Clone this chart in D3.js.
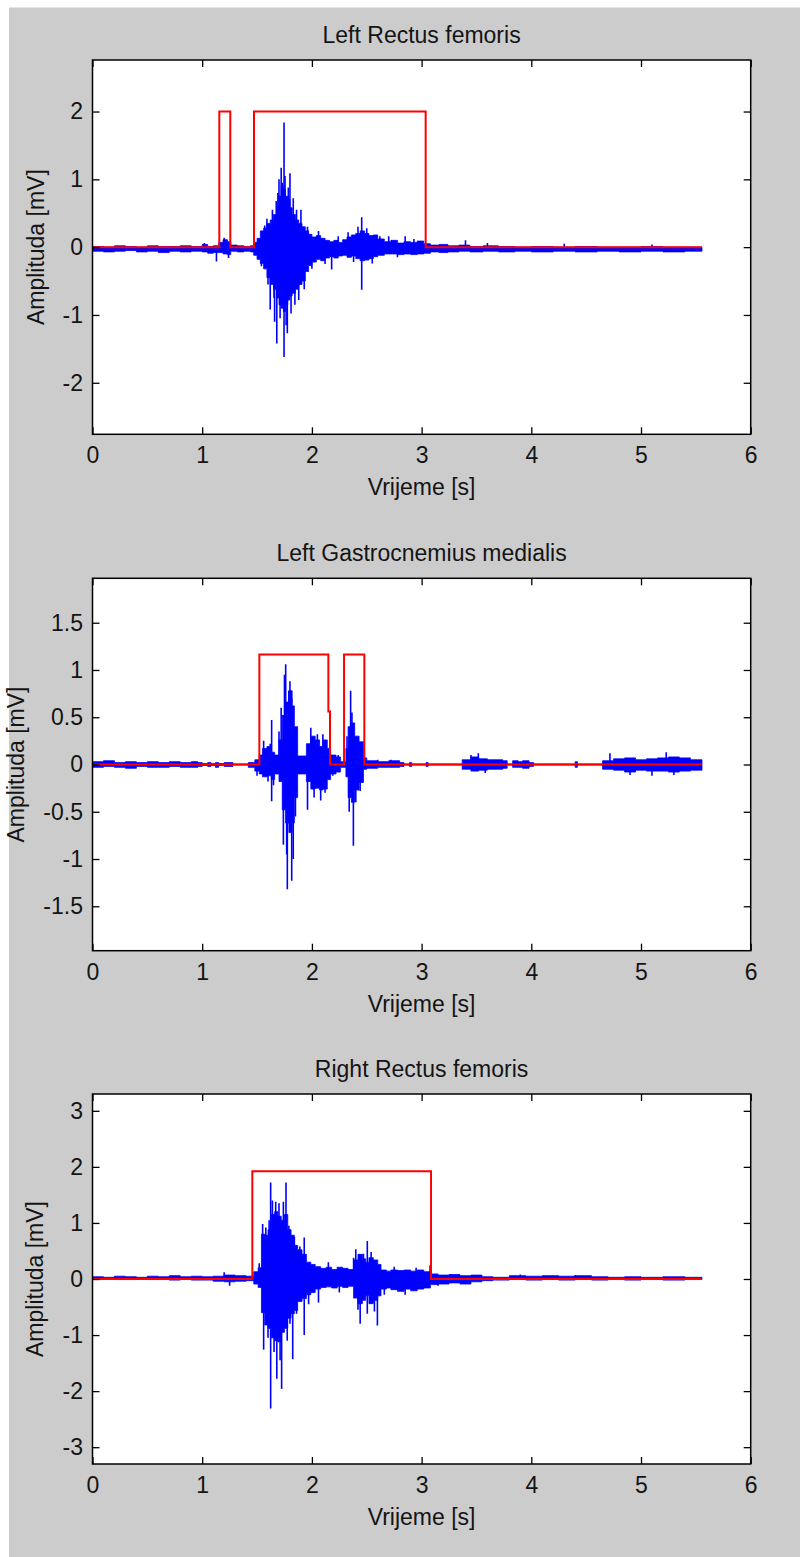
<!DOCTYPE html>
<html><head><meta charset="utf-8">
<script src="https://cdn.jsdelivr.net/npm/d3@7"></script>
<style>html,body{margin:0;padding:0;background:#fff;} svg{display:block}</style>
</head><body>
<svg id="chart" width="800" height="1557"></svg>
<script>
// ---------- data ----------
const titles = ["Left Rectus femoris", "Left Gastrocnemius medialis", "Right Rectus femoris"];
const xLabel = "Vrijeme [s]";
const yLabel = "Amplituda [mV]";
const xTicks = [0, 1, 2, 3, 4, 5, 6];
const yTicksLRF = [-2, -1, 0, 1, 2];
const yTicksLGM = [-1.5, -1, -0.5, 0, 0.5, 1, 1.5];
const yTicksRRF = [-3, -2, -1, 0, 1, 2, 3];

// Left Rectus femoris: EMG envelope (time, upper, lower), spikes, onset detection
const lrfTime  = [0,0.1,0.2,0.3,0.4,0.5,0.6,0.7,0.8,0.9,1.0,1.05,1.1,1.15,1.19,1.23,1.26,1.32,1.38,1.44,1.47,1.5,1.53,1.56,1.59,1.62,1.65,1.68,1.7,1.72,1.74,1.76,1.78,1.8,1.82,1.85,1.88,1.91,1.94,1.97,2.0,2.04,2.08,2.12,2.16,2.2,2.24,2.28,2.32,2.36,2.4,2.44,2.48,2.52,2.56,2.6,2.66,2.72,2.78,2.84,2.9,2.96,3.02,3.08,3.16,3.24,3.34,3.44,3.56,3.7,3.85,4.0,4.2,4.4,4.6,4.8,5.0,5.2,5.4,5.556];
const lrfUpper = [0.01,0.0,0.02,0.01,0.0,0.02,0.01,0.01,0.02,0.01,0.04,0.01,0.02,0.07,0.11,0.08,0.03,0.02,0.01,0.02,0.07,0.13,0.24,0.28,0.35,0.40,0.48,0.60,0.75,0.90,0.85,0.75,0.70,0.58,0.48,0.40,0.35,0.30,0.24,0.19,0.15,0.17,0.13,0.10,0.08,0.10,0.07,0.11,0.15,0.18,0.20,0.24,0.20,0.17,0.18,0.12,0.08,0.10,0.06,0.08,0.07,0.09,0.05,0.03,0.04,0.02,0.03,0.01,0.02,0.01,0.0,0.01,0.0,0.01,0.0,0.0,0.01,0.0,0.0,0.0];
const lrfLower = [-0.06,-0.07,-0.06,-0.05,-0.07,-0.06,-0.08,-0.06,-0.07,-0.06,-0.07,-0.09,-0.08,-0.08,-0.10,-0.11,-0.06,-0.07,-0.06,-0.07,-0.12,-0.18,-0.24,-0.32,-0.45,-0.55,-0.62,-0.75,-0.85,-0.90,-0.95,-0.85,-0.78,-0.72,-0.68,-0.62,-0.55,-0.50,-0.36,-0.27,-0.22,-0.18,-0.20,-0.16,-0.14,-0.16,-0.13,-0.12,-0.15,-0.13,-0.17,-0.20,-0.19,-0.17,-0.14,-0.12,-0.10,-0.10,-0.11,-0.10,-0.11,-0.10,-0.09,-0.07,-0.08,-0.07,-0.06,-0.07,-0.06,-0.07,-0.06,-0.07,-0.06,-0.07,-0.06,-0.07,-0.06,-0.07,-0.06,-0.06];
const lrfSpikeTime  = [1.02,1.13,1.2,1.24,1.54,1.57,1.59,1.6,1.62,1.64,1.655,1.66,1.675,1.68,1.69,1.70,1.71,1.72,1.73,1.746,1.746,1.755,1.765,1.776,1.785,1.80,1.81,1.83,1.845,1.86,1.88,1.90,1.93,1.96,2.0,2.06,2.12,2.18,2.24,2.33,2.38,2.42,2.454,2.454,2.5,2.55,2.62,2.70,2.78,2.85,2.93,3.40,3.6,4.3,5.1];
const lrfSpikeValue = [0.06,-0.21,0.14,-0.16,-0.28,0.32,0.42,-0.55,-0.92,0.55,-0.75,-1.10,0.68,-1.42,0.80,1.00,-1.05,1.17,0.95,1.84,-1.62,1.05,-1.15,-1.27,0.88,1.09,-0.98,0.72,-0.85,0.55,-0.78,0.55,-0.62,0.30,-0.32,0.24,-0.25,-0.33,0.16,0.22,-0.22,0.30,0.44,-0.63,0.28,-0.24,0.16,0.16,-0.15,0.16,0.12,0.10,0.06,0.05,0.04];
const lrfOnsetTime  = [0,1.156,1.156,1.256,1.256,1.472,1.472,3.037,3.037,5.556];
const lrfOnsetValue = [0,0,2,2,0,0,2,2,0,0];

// Left Gastrocnemius medialis
const lgmTime  = [0,0.1,0.2,0.3,0.4,0.5,0.6,0.7,0.8,0.9,0.96,1.0,1.05,1.08,1.12,1.15,1.2,1.28,1.42,1.48,1.52,1.55,1.59,1.63,1.66,1.7,1.73,1.76,1.79,1.82,1.84,1.87,1.95,1.99,2.03,2.07,2.1,2.14,2.17,2.22,2.26,2.31,2.33,2.36,2.39,2.43,2.47,2.5,2.6,2.7,2.8,2.84,2.89,2.91,3.04,3.06,3.37,3.45,3.52,3.6,3.68,3.74,3.78,3.83,3.88,3.92,3.98,4.02,4.4,4.42,4.65,4.75,4.85,4.95,5.05,5.15,5.25,5.35,5.45,5.556];
const lgmUpper = [0.03,0.04,0.02,0.03,0.02,0.03,0.02,0.03,0.02,0.03,0.02,0.01,0.02,0.01,0.02,0.01,0.02,0.005,0.02,0.05,0.10,0.17,0.19,0.13,0.10,0.26,0.52,0.66,0.78,0.62,0.40,0.09,0.22,0.30,0.26,0.19,0.26,0.17,0.10,0.08,0.03,0.17,0.40,0.44,0.30,0.24,0.07,0.04,0.03,0.04,0.02,0.005,0.02,0.005,0.02,0.005,0.05,0.08,0.06,0.05,0.05,0.04,0.005,0.04,0.03,0.04,0.02,0.005,0.03,0.005,0.04,0.06,0.07,0.05,0.06,0.07,0.08,0.07,0.05,0.05];
const lgmLower = [-0.03,-0.02,-0.03,-0.04,-0.02,-0.03,-0.03,-0.02,-0.03,-0.03,-0.02,-0.01,-0.02,-0.01,-0.03,-0.01,-0.02,-0.005,-0.03,-0.07,-0.10,-0.13,-0.12,-0.16,-0.10,-0.18,-0.48,-0.62,-0.72,-0.62,-0.35,-0.10,-0.18,-0.26,-0.25,-0.27,-0.26,-0.16,-0.10,-0.08,-0.03,-0.13,-0.35,-0.40,-0.27,-0.19,-0.05,-0.04,-0.03,-0.03,-0.02,-0.005,-0.02,-0.005,-0.02,-0.005,-0.05,-0.07,-0.06,-0.05,-0.05,-0.04,-0.005,-0.03,-0.03,-0.04,-0.02,-0.005,-0.03,-0.005,-0.05,-0.06,-0.08,-0.06,-0.07,-0.07,-0.08,-0.07,-0.06,-0.06];
const lgmSpikeTime  = [1.50,1.56,1.60,1.62,1.633,1.633,1.65,1.70,1.72,1.74,1.75,1.761,1.77,1.776,1.79,1.80,1.816,1.816,1.83,1.85,1.96,1.99,2.02,2.05,2.08,2.10,2.12,2.19,2.24,2.32,2.34,2.353,2.365,2.378,2.40,2.44,2.6,2.72,3.45,3.517,3.58,4.717,4.9,5.1,5.23,5.3];
const lgmSpikeValue = [-0.12,0.25,-0.18,0.22,0.47,-0.39,-0.22,0.35,0.60,-0.85,0.95,1.06,-0.95,-1.32,0.78,0.88,-1.23,0.70,-1.00,-0.55,-0.48,0.39,-0.35,0.32,-0.38,0.32,-0.30,-0.12,0.10,0.30,-0.50,0.78,0.55,-0.86,-0.40,-0.28,0.05,0.05,0.10,0.12,-0.09,0.12,-0.11,-0.12,0.13,-0.11];
const lgmOnsetTime  = [0,1.521,1.521,2.150,2.150,2.165,2.165,2.293,2.293,2.478,2.478,5.556];
const lgmOnsetValue = [0,0,1.164,1.164,0.56,0.56,0,0,1.164,1.164,0,0];

// Right Rectus femoris
const rrfTime  = [0,0.1,0.2,0.3,0.4,0.5,0.6,0.7,0.8,0.9,1.0,1.1,1.2,1.3,1.4,1.47,1.51,1.54,1.57,1.6,1.63,1.66,1.69,1.72,1.75,1.78,1.81,1.84,1.87,1.91,1.95,1.99,2.03,2.08,2.13,2.18,2.23,2.28,2.33,2.38,2.42,2.46,2.49,2.52,2.56,2.6,2.63,2.68,2.72,2.78,2.84,2.9,2.96,3.02,3.08,3.15,3.25,3.35,3.45,3.55,3.65,3.8,3.95,4.1,4.25,4.4,4.55,4.7,4.85,5.0,5.2,5.4,5.556];
const rrfUpper = [0.04,0.03,0.05,0.04,0.03,0.05,0.04,0.06,0.04,0.05,0.04,0.05,0.07,0.06,0.05,0.13,0.20,0.80,0.78,0.88,1.15,1.20,1.12,1.05,1.15,0.88,0.78,0.60,0.52,0.44,0.30,0.26,0.22,0.19,0.21,0.17,0.21,0.19,0.17,0.34,0.44,0.36,0.30,0.38,0.34,0.26,0.16,0.14,0.16,0.15,0.16,0.14,0.16,0.13,0.09,0.07,0.08,0.06,0.07,0.04,0.03,0.06,0.05,0.06,0.05,0.06,0.04,0.03,0.04,0.03,0.04,0.03,0.03];
const rrfLower = [-0.01,0.00,-0.01,-0.01,0.00,-0.01,-0.01,-0.02,-0.01,-0.02,-0.02,-0.04,-0.05,-0.04,-0.03,-0.09,-0.15,-0.60,-0.82,-0.88,-1.05,-1.10,-1.12,-0.95,-0.88,-0.70,-0.62,-0.56,-0.40,-0.35,-0.28,-0.24,-0.18,-0.15,-0.14,-0.16,-0.13,-0.15,-0.13,-0.34,-0.44,-0.38,-0.30,-0.44,-0.38,-0.30,-0.18,-0.16,-0.19,-0.22,-0.18,-0.21,-0.18,-0.16,-0.10,-0.09,-0.07,-0.09,-0.05,-0.03,-0.02,-0.01,-0.02,-0.01,-0.02,-0.01,-0.02,-0.01,-0.02,-0.01,-0.02,-0.01,-0.01];
const rrfSpikeTime  = [1.2,1.25,1.52,1.551,1.56,1.58,1.60,1.61,1.624,1.624,1.64,1.655,1.67,1.68,1.70,1.71,1.724,1.74,1.764,1.775,1.79,1.80,1.825,1.84,1.86,1.89,1.93,1.93,1.97,2.06,2.15,2.25,2.38,2.40,2.42,2.44,2.47,2.505,2.505,2.54,2.57,2.597,2.66,2.75,2.85,2.95,3.077,3.15,3.9,4.4];
const rrfSpikeValue = [0.12,-0.12,0.28,0.98,-1.26,0.92,-1.05,1.05,1.72,-2.31,1.40,-1.30,1.38,-1.78,1.35,-1.45,-1.96,1.38,1.72,-1.10,0.95,-0.80,-1.43,0.75,-0.62,0.58,0.74,-1.00,-0.45,-0.42,0.30,-0.24,0.38,0.53,-0.55,-0.80,0.45,0.68,-0.62,0.48,-0.58,-0.83,-0.28,0.22,-0.28,0.20,0.24,-0.12,0.08,0.07];
const rrfOnsetTime  = [0,1.457,1.457,3.086,3.086,5.556];
const rrfOnsetValue = [0,0,1.92,1.92,0,0];

// ---------- layout ----------
const W = 800, H = 1557;
const plotLeft = 92.5, plotRight = 750.7;
const FONT = "'Liberation Sans', Arial, Helvetica, sans-serif";
const TXT = "#141414";

const svg = d3.select("#chart");
svg.append("rect").attr("width", W).attr("height", H).attr("fill", "#ffffff");
svg.append("rect").attr("x", 9).attr("y", 7.5).attr("width", W - 9).attr("height", H - 7.5).attr("fill", "#cccccc");

const panels = [
  {title: titles[0], top: 60, bottom: 434.3, ylim: [-2.76, 2.76], yTicks: yTicksLRF, ylabX: 44,
   env: [lrfTime, lrfUpper, lrfLower], spikes: [lrfSpikeTime, lrfSpikeValue], onset: [lrfOnsetTime, lrfOnsetValue]},
  {title: titles[1], top: 578.3, bottom: 950.7, ylim: [-1.97, 1.97], yTicks: yTicksLGM, ylabX: 24,
   env: [lgmTime, lgmUpper, lgmLower], spikes: [lgmSpikeTime, lgmSpikeValue], onset: [lgmOnsetTime, lgmOnsetValue]},
  {title: titles[2], top: 1094, bottom: 1464, ylim: [-3.3, 3.3], yTicks: yTicksRRF, ylabX: 43,
   env: [rrfTime, rrfUpper, rrfLower], spikes: [rrfSpikeTime, rrfSpikeValue], onset: [rrfOnsetTime, rrfOnsetValue]}
];

panels.forEach((p, k) => {
  const x = d3.scaleLinear().domain([xTicks[0], xTicks[xTicks.length - 1]]).range([plotLeft, plotRight]);
  const y = d3.scaleLinear().domain(p.ylim).range([p.bottom, p.top]);
  const g = svg.append("g");

  g.append("rect").attr("x", plotLeft).attr("y", p.top)
    .attr("width", plotRight - plotLeft).attr("height", p.bottom - p.top).attr("fill", "#ffffff");

  const clipId = "clip" + k;
  svg.append("clipPath").attr("id", clipId).append("rect")
    .attr("x", plotLeft).attr("y", p.top).attr("width", plotRight - plotLeft).attr("height", p.bottom - p.top);
  const plot = g.append("g").attr("clip-path", `url(#${clipId})`);

  // EMG envelope
  const envData = p.env[0].map((t, i) => ({t, u: p.env[1][i], l: p.env[2][i]}));
  const area = d3.area().x(d => x(d.t)).y0(d => y(d.l)).y1(d => y(d.u)).curve(d3.curveStepAfter);
  plot.append("path").attr("d", area(envData))
    .attr("fill", "#0000ff").attr("stroke", "#0000ff").attr("stroke-width", 0.8);

  // individual spikes
  const spikeData = p.spikes[0].map((t, i) => ({t, v: p.spikes[1][i]}));
  plot.selectAll("line.spike").data(spikeData).enter().append("line")
    .attr("class", "spike")
    .attr("x1", d => x(d.t)).attr("x2", d => x(d.t))
    .attr("y1", y(0)).attr("y2", d => y(d.v))
    .attr("stroke", "#0000ff").attr("stroke-width", 1.6);

  // onset detection (red)
  const onsetData = p.onset[0].map((t, i) => ({t, v: p.onset[1][i]}));
  const line = d3.line().x(d => x(d.t)).y(d => y(d.v));
  plot.append("path").attr("d", line(onsetData))
    .attr("fill", "none").attr("stroke", "#ff0000").attr("stroke-width", 2);

  // axes
  const fmt = d => String(d);
  const ax = [
    g.append("g").attr("transform", `translate(0,${p.bottom})`).call(d3.axisBottom(x).tickValues(xTicks).tickFormat(fmt).tickSize(-7).tickPadding(12.5)),
    g.append("g").attr("transform", `translate(0,${p.top})`).call(d3.axisTop(x).tickValues(xTicks).tickFormat("").tickSize(-7)),
    g.append("g").attr("transform", `translate(${plotLeft},0)`).call(d3.axisLeft(y).tickValues(p.yTicks).tickFormat(fmt).tickSize(-7).tickPadding(9.5)),
    g.append("g").attr("transform", `translate(${plotRight},0)`).call(d3.axisRight(y).tickValues(p.yTicks).tickFormat("").tickSize(-7))
  ];
  ax.forEach(a => {
    a.select(".domain").remove();
    a.selectAll("line").attr("stroke", "#000").attr("stroke-width", 1.3);
    a.selectAll("text").attr("fill", TXT).style("font-family", FONT).style("font-size", "23px");
  });
  g.append("rect").attr("x", plotLeft).attr("y", p.top)
    .attr("width", plotRight - plotLeft).attr("height", p.bottom - p.top)
    .attr("fill", "none").attr("stroke", "#000").attr("stroke-width", 1.5);

  // texts
  const cx = (plotLeft + plotRight) / 2;
  g.append("text").attr("x", cx).attr("y", p.top - 17).attr("text-anchor", "middle")
    .attr("fill", TXT).style("font-family", FONT).style("font-size", "23px").text(p.title);
  g.append("text").attr("x", cx).attr("y", p.bottom + 61).attr("text-anchor", "middle")
    .attr("fill", TXT).style("font-family", FONT).style("font-size", "23px").text(xLabel);
  g.append("text").attr("transform", `translate(${p.ylabX},${(p.top + p.bottom) / 2}) rotate(-90)`)
    .attr("text-anchor", "middle")
    .attr("fill", TXT).style("font-family", FONT).style("font-size", "23px").text(yLabel);
});
</script>
</body></html>
